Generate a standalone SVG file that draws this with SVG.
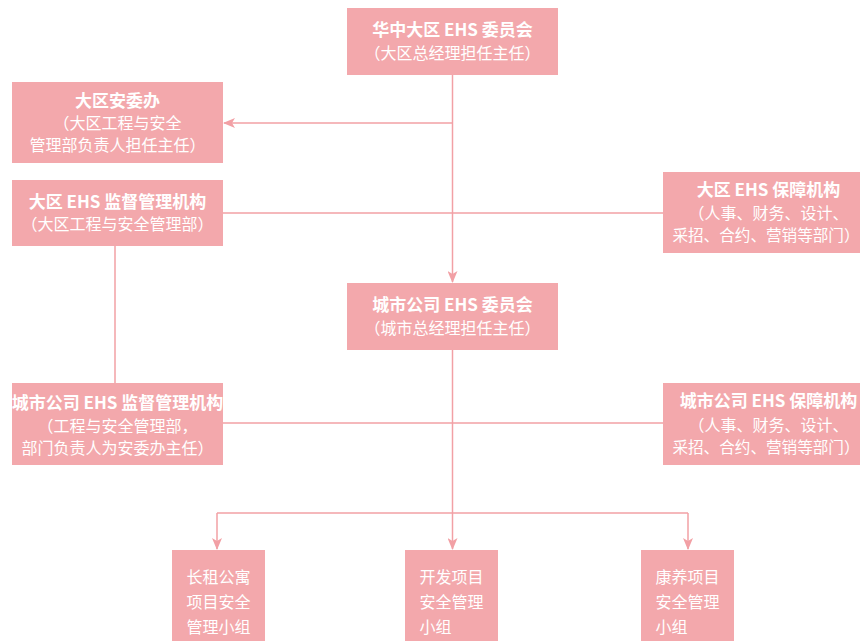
<svg xmlns="http://www.w3.org/2000/svg" width="860" height="641" viewBox="0 0 860 641">
<defs>
<style>
.box{fill:#F3A8AC;}
.t{font-family:"Noto Sans CJK SC","Noto Sans",sans-serif;font-size:16px;fill:#FFFFFF;text-anchor:middle;}
.b{font-weight:bold;font-size:17px;}
.l{text-anchor:start;}
.s{font-size:15.6px;}
.c{stroke:#F2A0A5;stroke-width:1.5;fill:none;}
</style>
<marker id="arr" viewBox="0 0 12 10" refX="11" refY="5" markerWidth="12" markerHeight="10" markerUnits="userSpaceOnUse" orient="auto">
<path d="M0,0 L12,5 L0,10 L3,5 Z" fill="#F2A0A5"/>
</marker>
</defs>
<rect width="860" height="641" fill="#FFFFFF"/>
<g id="connectors">
<path class="c" d="M452.5,75 V282" marker-end="url(#arr)"/>
<path class="c" d="M452.5,123 H224" marker-end="url(#arr)"/>
<path class="c" d="M223,213 H663"/>
<path class="c" d="M115,246 V383"/>
<path class="c" d="M223,423 H663"/>
<path class="c" d="M452.5,350 V549" marker-end="url(#arr)"/>
<path class="c" d="M217,513 H688"/>
<path class="c" d="M217,513 V549" marker-end="url(#arr)"/>
<path class="c" d="M688,513 V549" marker-end="url(#arr)"/>
</g>
<g id="n1">
<rect class="box" x="347" y="8" width="211" height="67"/>
<text class="t b" x="452.5" y="36">华中大区 EHS 委员会</text>
<text class="t" x="452.5" y="59">（大区总经理担任主任）</text>
</g>
<g id="n2">
<rect class="box" x="12" y="82" width="211" height="81"/>
<text class="t b" x="117.5" y="107">大区安委办</text>
<text class="t" x="117.5" y="129">（大区工程与安全</text>
<text class="t" x="117.5" y="151">管理部负责人担任主任）</text>
</g>
<g id="n3">
<rect class="box" x="12" y="180" width="211" height="66"/>
<text class="t b" x="117.5" y="208">大区 EHS 监督管理机构</text>
<text class="t" x="117.5" y="230">（大区工程与安全管理部）</text>
</g>
<g id="n4">
<rect class="box" x="663" y="172" width="211" height="81"/>
<text class="t b" x="768.5" y="196">大区 EHS 保障机构</text>
<text class="t" x="768.5" y="219">（人事、财务、设计、</text>
<text class="t s" x="766" y="241">采招、合约、营销等部门）</text>
</g>
<g id="n5">
<rect class="box" x="347" y="283" width="211" height="67"/>
<text class="t b" x="452.5" y="311">城市公司 EHS 委员会</text>
<text class="t" x="452.5" y="334">（城市总经理担任主任）</text>
</g>
<g id="n6">
<rect class="box" x="12" y="383" width="211" height="82"/>
<text class="t b" x="117.5" y="409">城市公司 EHS 监督管理机构</text>
<text class="t" x="117.5" y="432">（工程与安全管理部，</text>
<text class="t" x="117.5" y="454">部门负责人为安委办主任）</text>
</g>
<g id="n7">
<rect class="box" x="663" y="383" width="211" height="82"/>
<text class="t b" x="768.5" y="407">城市公司 EHS 保障机构</text>
<text class="t" x="768.5" y="431">（人事、财务、设计、</text>
<text class="t s" x="766" y="453">采招、合约、营销等部门）</text>
</g>
<g id="n8">
<rect class="box" x="172" y="550" width="93" height="100"/>
<text class="t l" x="186.5" y="583">长租公寓</text>
<text class="t l" x="186.5" y="608">项目安全</text>
<text class="t l" x="186.5" y="633">管理小组</text>
</g>
<g id="n9">
<rect class="box" x="405" y="550" width="93" height="100"/>
<text class="t l" x="419.5" y="583">开发项目</text>
<text class="t l" x="419.5" y="608">安全管理</text>
<text class="t l" x="419.5" y="633">小组</text>
</g>
<g id="n10">
<rect class="box" x="641" y="550" width="93" height="100"/>
<text class="t l" x="655.5" y="583">康养项目</text>
<text class="t l" x="655.5" y="608">安全管理</text>
<text class="t l" x="655.5" y="633">小组</text>
</g>
</svg>
